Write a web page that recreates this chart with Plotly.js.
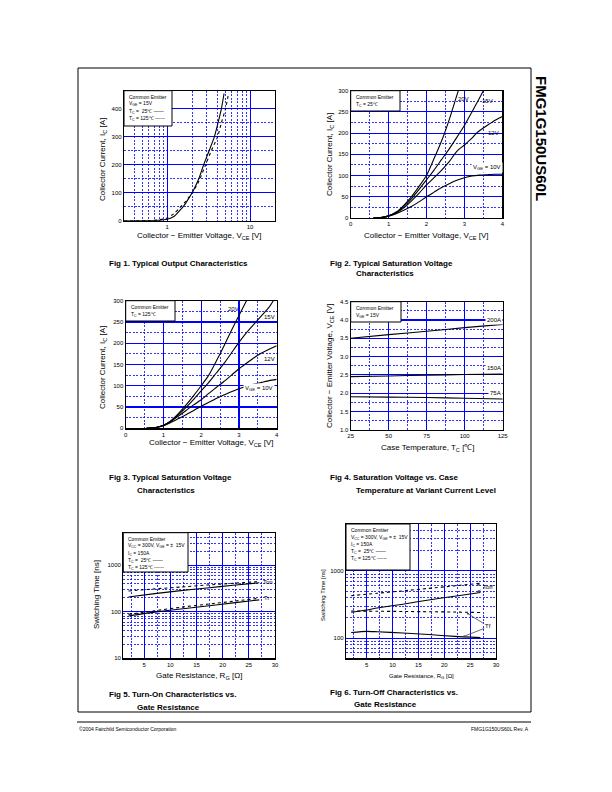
<!DOCTYPE html>
<html><head><meta charset="utf-8">
<script src="https://cdn.plot.ly/plotly-3.0.1.min.js"></script>
<style>html,body{margin:0;padding:0;background:#fff}#chart{width:612px;height:792px}</style>
</head><body><div id="chart"></div>
<script>
// ---------- DATA ----------
// Fig 1: Typical Output Characteristics (VGE=15V)
const f1_vce25 = [0.3,0.6,0.8,1.0,1.2,1.4,1.6,1.8,2.0,2.4,2.75,3.2,3.7,4.1,4.5,4.85];
const f1_ic25  = [0,0.2,1,5,15,35,55,78,100,150,200,250,300,350,400,455];
const f1_vce125 = [0.3,0.6,0.8,1.0,1.2,1.4,1.6,1.8,2.0,2.4,2.9,3.4,4.05,4.5,5.05,5.5];
const f1_ic125  = [0,0.5,3,10,25,45,63,82,100,140,200,250,300,350,400,455];
// Fig 2: Typical Saturation Voltage, Tc=25C
const f2_v20 = [0.6,0.8,1.0,1.2,1.4,1.6,1.8,2.0,2.2,2.4,2.6,2.8,2.84];
const f2_i20 = [0,1,5,14,30,50,74,100,140,182,232,289,300];
const f2_v15 = [0.6,0.8,1.0,1.2,1.4,1.6,1.8,2.0,2.2,2.4,2.6,2.8,3.0,3.2,3.4,3.5];
const f2_i15 = [0,1,5,13,27,45,67,90,113,138,163,190,218,250,283,300];
const f2_v12 = [0.6,0.8,1.0,1.2,1.4,1.6,1.8,2.0,2.2,2.4,2.6,2.8,3.0,3.2,3.32,3.5,3.75,4.0];
const f2_i12 = [0,1,5,12,24,40,58,78,95,113,133,157,172,188,200,212,227,239];
const f2_v10 = [0.6,0.8,1.0,1.2,1.4,1.6,1.8,2.0,2.2,2.4,2.6,2.8,3.0,3.2,3.4,3.6,3.8,4.0];
const f2_i10 = [0,1,4,10,18,27,38,50,61,72,81,89,95,99,101,102,103,103];
// Fig 3: Typical Saturation Voltage, Tc=125C
const f3_v20 = [0.55,0.8,1.0,1.2,1.4,1.6,1.8,2.0,2.2,2.4,2.6,2.8,3.0,3.2];
const f3_i20 = [0,2,7,18,35,55,77,100,125,158,193,230,265,300];
const f3_v15 = [0.55,0.8,1.0,1.2,1.4,1.6,1.8,2.0,2.2,2.4,2.6,2.8,3.0,3.2,3.4,3.6,3.8,3.91];
const f3_i15 = [0,2,7,17,32,49,68,88,108,130,152,177,202,225,245,265,285,300];
const f3_v12 = [0.55,0.8,1.0,1.2,1.4,1.6,1.8,2.0,2.2,2.4,2.6,2.8,3.0,3.2,3.4,3.6,3.8,4.0];
const f3_i12 = [0,2,7,16,29,42,55,67,82,96,110,125,140,153,166,177,186,194];
const f3_v10 = [0.55,0.8,1.0,1.2,1.4,1.6,1.8,2.0,2.2,2.4,2.6,2.8,3.0,3.2,3.4,3.6,3.8,4.0];
const f3_i10 = [0,2,6,14,23,32,42,52,61,70,78,86,93,99,104,108,112,115];
// Fig 4: Saturation Voltage vs Case Temperature
const f4_tc = [25,50,75,100,125];
const f4_200A = [3.50,3.60,3.69,3.79,3.88];
const f4_150A = [2.45,2.47,2.49,2.51,2.52];
const f4_75A  = [1.90,1.89,1.88,1.86,1.84];
// Fig 5: Turn-On vs Gate Resistance
const f5_rg = [2,7,12,17,22,27];
const f5_ton25  = [207,245,285,325,370,420];
const f5_ton125 = [280,310,340,375,410,445];
const f5_tr25   = [81,98,115,133,155,180];
const f5_tr125  = [88,105,125,145,168,195];
// Fig 6: Turn-Off vs Gate Resistance
const f6_rg = [2,5,7,12,17,22,27];
const f6_toff25  = [243,262,280,320,370,420,477];
const f6_toff125 = [428,450,465,505,550,600,656];
const f6_tf25    = [121,126,124,119,113,106,102];
const f6_tf125   = [253,252,251,249,247,244,240];

// ---------- LAYOUT HELPERS ----------
const W=612,H=792;
const FONT='Liberation Sans, Arial, sans-serif';
const px=x=>x/W, py=y=>1-y/H;
const boxes={
 1:[124,275,90.7,220.7], 2:[350.7,502.3,90.7,218], 3:[125.7,276.7,300.7,428.3],
 4:[350.7,502.7,301.7,429.7], 5:[123.3,275,532.7,658.3], 6:[346,496,524,658.3]};
const BLUE='#0000ff';
function ax(n,isX,opts){
  const b=boxes[n];
  const base={domain:isX?[px(b[0]),px(b[1])]:[py(b[3]),py(b[2])],
    anchor:(isX?'y':'x')+(n===1?'':n),
    showline:true,mirror:true,linecolor:'#000',linewidth:1.2,
    showgrid:true,gridcolor:BLUE,gridwidth:1.1,zeroline:false,ticks:'',
    tickfont:{family:FONT,size:6,color:'#000'},tickmode:'array',
    minor:{showgrid:true,gridcolor:BLUE,griddash:'2px,1.5px',gridwidth:0.8,tickmode:'array',ticks:''}};
  Object.assign(base,opts.main||{});
  Object.assign(base.minor,opts.minor||{});
  return base;
}
const traces=[];
function line(n,x,y,dash){traces.push({x,y,type:'scatter',mode:'lines',xaxis:'x'+(n===1?'':n),yaxis:'y'+(n===1?'':n),
  line:{color:'#000',width:1.1,dash:dash||'solid',shape:'spline',smoothing:0.6},hoverinfo:'skip',showlegend:false});}

line(1,f1_vce25,f1_ic25); line(1,f1_vce125,f1_ic125,'dot');
line(2,f2_v20,f2_i20); line(2,f2_v15,f2_i15); line(2,f2_v12,f2_i12); line(2,f2_v10,f2_i10);
line(3,f3_v20,f3_i20); line(3,f3_v15,f3_i15); line(3,f3_v12,f3_i12); line(3,f3_v10,f3_i10);
line(4,f4_tc,f4_200A); line(4,f4_tc,f4_150A); line(4,f4_tc,f4_75A);
line(5,f5_rg,f5_ton25); line(5,f5_rg,f5_ton125,'dot'); line(5,f5_rg,f5_tr25); line(5,f5_rg,f5_tr125,'dot');
line(6,f6_rg,f6_toff25); line(6,f6_rg,f6_toff125,'dot'); line(6,f6_rg,f6_tf25); line(6,f6_rg,f6_tf125,'dot');

const logMinor=[20,30,40,50,60,70,80,90,200,300,400,500,600,700,800,900,2000,3000,4000];
const layout={width:W,height:H,margin:{l:0,r:0,t:0,b:0},paper_bgcolor:'#fff',plot_bgcolor:'#fff',
 showlegend:false,hovermode:false,font:{family:FONT,color:'#000'},
 xaxis:ax(1,true,{main:{type:'log',range:[Math.log10(0.3),Math.log10(20)],tickvals:[1,10],ticktext:['1','10']},
   minor:{tickvals:[0.4,0.5,0.6,0.7,0.8,0.9,2,3,4,5,6,7,8,9]}}),
 yaxis:ax(1,false,{main:{range:[0,465],tickvals:[0,100,200,300,400]},minor:{tickvals:[50,150,250,350]}}),
 xaxis2:ax(2,true,{main:{range:[0,4],tickvals:[0,1,2,3,4]},minor:{tickvals:[0.5,1.5,2.5,3.5]}}),
 yaxis2:ax(2,false,{main:{range:[0,300],tickvals:[0,50,100,150,200,250,300]},minor:{tickvals:[25,75,125,175,225,275]}}),
 xaxis3:ax(3,true,{main:{range:[0,4],tickvals:[0,1,2,3,4]},minor:{tickvals:[0.5,1.5,2.5,3.5]}}),
 yaxis3:ax(3,false,{main:{range:[0,300],tickvals:[0,50,100,150,200,250,300]},minor:{tickvals:[25,75,125,175,225,275]}}),
 xaxis4:ax(4,true,{main:{range:[25,125],tickvals:[25,50,75,100,125]},minor:{tickvals:[37.5,62.5,87.5,112.5]}}),
 yaxis4:ax(4,false,{main:{range:[1,4.5],tickvals:[1,1.5,2,2.5,3,3.5,4,4.5],ticktext:['1.0','1.5','2.0','2.5','3.0','3.5','4.0','4.5']},
   minor:{tickvals:[1.25,1.75,2.25,2.75,3.25,3.75,4.25]}}),
 xaxis5:ax(5,true,{main:{range:[1,30],tickvals:[5,10,15,20,25,30]},minor:{tickvals:[2.5,7.5,12.5,17.5,22.5,27.5]}}),
 yaxis5:ax(5,false,{main:{type:'log',range:[1,Math.log10(5000)],tickvals:[10,100,1000],ticktext:['10','100','1000']},minor:{tickvals:logMinor}}),
 xaxis6:ax(6,true,{main:{range:[1,30],tickvals:[5,10,15,20,25,30]},minor:{tickvals:[2.5,7.5,12.5,17.5,22.5,27.5]}}),
 yaxis6:ax(6,false,{main:{type:'log',range:[Math.log10(50),Math.log10(5000)],tickvals:[100,1000],ticktext:['100','1000']},minor:{tickvals:logMinor}}),
 annotations:[],shapes:[]};

const A=layout.annotations, S=layout.shapes;
function t(text,x,y,o){A.push(Object.assign({text,x:px(x),y:py(y),xref:'paper',yref:'paper',showarrow:false,
  xanchor:'center',yanchor:'middle',font:{family:FONT,size:8,color:'#000'}},o||{}));}
function d(n,text,x,y,o){const s=n===1?'':n;A.push(Object.assign({text,x,y,xref:'x'+s,yref:'y'+s,showarrow:false,
  xanchor:'center',yanchor:'middle',font:{family:FONT,size:6,color:'#000'}},o||{}));}
function legendBox(x0,y0,x1,y1,lines){
  S.push({type:'rect',xref:'paper',yref:'paper',x0:px(x0),x1:px(x1),y0:py(y0),y1:py(y1),fillcolor:'#fff',line:{color:'#000',width:1},layer:'above'});
  lines.forEach((l,i)=>t(l,x0+3,y0+6+i*(lines.length>3?7.2:7.5),{xanchor:'left',font:{family:FONT,size:5,color:'#000'}}));
}
// page frame, footer, side title
S.push({type:'rect',xref:'paper',yref:'paper',x0:px(78),x1:px(531),y0:py(712),y1:py(68),line:{color:'#000',width:1}});
S.push({type:'line',xref:'paper',yref:'paper',x0:px(77),x1:px(531),y0:py(722),y1:py(722),line:{color:'#000',width:1}});
t('©2004 Fairchild Semiconductor Corporation',77,729,{xanchor:'left',font:{family:FONT,size:5}});
t('FMG1G150US60L Rev. A',531,729,{xanchor:'right',font:{family:FONT,size:5}});
t('<b>FMG1G150US60L</b>',542,138,{textangle:90,font:{family:FONT,size:15}});

// Legends
legendBox(124,90.7,172,126,['Common Emitter','V<sub>GE</sub> = 15V','T<sub>C</sub> =  25℃ ——','T<sub>C</sub> = 125℃ ------']);
legendBox(350.7,90.7,400,111,['Common Emitter','T<sub>C</sub> = 25℃']);
legendBox(125.7,300.7,175,321,['Common Emitter','T<sub>C</sub> = 125℃']);
legendBox(350.7,301.7,401,322,['Common Emitter','V<sub>GE</sub> = 15V']);
legendBox(123.3,532.7,188,572,['Common Emitter','V<sub>CC</sub> = 300V, V<sub>GE</sub> = ±  15V','I<sub>C</sub> = 150A','T<sub>C</sub> =  25℃ ——','T<sub>C</sub> = 125℃ ------']);
legendBox(346,524,410,570,['Common Emitter','V<sub>CC</sub> = 300V, V<sub>GE</sub> = ±  15V','I<sub>C</sub> = 150A','T<sub>C</sub> =  25℃ ——','T<sub>C</sub> = 125℃ ------']);

// Axis titles
const XT='Collector − Emitter Voltage, V<sub>CE</sub> [V]';
const YT='Collector Current, I<sub>C</sub> [A]';
t(XT,199,236); t(YT,103,160,{textangle:-90});
t(XT,426,236); t(YT,330,155,{textangle:-90});
t(XT,211,443); t(YT,103,368,{textangle:-90});
t('Case Temperature, T<sub>C</sub> [℃]',428,448); t(XT,330,366,{textangle:-90});
t('Gate Resistance, R<sub>G</sub> [Ω]',199,676); t('Switching Time [ns]',96,595,{textangle:-90});
t('Gate Resistance, R<sub>G</sub> [Ω]',421,676,{font:{family:FONT,size:6}}); t('Switching Time [ns]',323,595,{textangle:-90,font:{family:FONT,size:6}});

// Captions
const CF={family:FONT,size:8,color:'#000'};
t('<b>Fig 1. Typical Output Characteristics</b>',107,263,{xanchor:'left',font:CF});
t('<b>Fig 2. Typical Saturation Voltage</b>',328,263,{xanchor:'left',font:CF});
t('<b>Characteristics</b>',354,273,{xanchor:'left',font:CF});
t('<b>Fig 3. Typical Saturation Voltage</b>',107,478,{xanchor:'left',font:CF});
t('<b>Characteristics</b>',135,490,{xanchor:'left',font:CF});
t('<b>Fig 4. Saturation Voltage vs. Case</b>',328,478,{xanchor:'left',font:CF});
t('<b>Temperature at Variant Current Level</b>',354,490,{xanchor:'left',font:CF});
t('<b>Fig 5. Turn-On Characteristics vs.</b>',107,694,{xanchor:'left',font:CF});
t('<b>Gate Resistance</b>',135,707,{xanchor:'left',font:CF});
t('<b>Fig 6. Turn-Off Characteristics vs.</b>',328,692,{xanchor:'left',font:CF});
t('<b>Gate Resistance</b>',352,704,{xanchor:'left',font:CF});

// Curve labels
d(2,'20V',2.97,280); d(2,'15V',3.6,276); d(2,'12V',3.78,200); d(2,'V<sub>GE</sub> = 10V',3.6,119,{bgcolor:'#fff'});
d(3,'20V',2.85,280); d(3,'15V',3.82,262); d(3,'12V',3.82,164); d(3,'V<sub>GE</sub> = 10V',3.52,94,{bgcolor:'#fff'});
d(4,'200A',119,4.0,{bgcolor:'#fff'}); d(4,'150A',119,2.68,{bgcolor:'#fff'}); d(4,'75A',120,1.99,{bgcolor:'#fff'});
d(5,'Ton',28.7,Math.log10(445)); d(5,'Tr',28.4,Math.log10(198));
d(6,'Toff',28.4,Math.log10(571));
d(6,'Tf',28.4,Math.log10(149));
A.push({xref:'x6',yref:'y6',x:24.3,y:Math.log10(238),ax:28.0,ay:Math.log10(158),axref:'x6',ayref:'y6',text:'',showarrow:true,arrowhead:2,arrowsize:0.6,arrowwidth:0.8});
A.push({xref:'x6',yref:'y6',x:23.5,y:Math.log10(104),ax:28.0,ay:Math.log10(142),axref:'x6',ayref:'y6',text:'',showarrow:true,arrowhead:2,arrowsize:0.6,arrowwidth:0.8});
A.push({xref:'x6',yref:'y6',x:26.3,y:Math.log10(640),ax:27.3,ay:Math.log10(600),axref:'x6',ayref:'y6',text:'',showarrow:true,arrowhead:2,arrowsize:0.6,arrowwidth:0.8});
A.push({xref:'x6',yref:'y6',x:26.3,y:Math.log10(480),ax:27.3,ay:Math.log10(540),axref:'x6',ayref:'y6',text:'',showarrow:true,arrowhead:2,arrowsize:0.6,arrowwidth:0.8});

Plotly.newPlot('chart',traces,layout,{staticPlot:true,displayModeBar:false});
</script></body></html>
